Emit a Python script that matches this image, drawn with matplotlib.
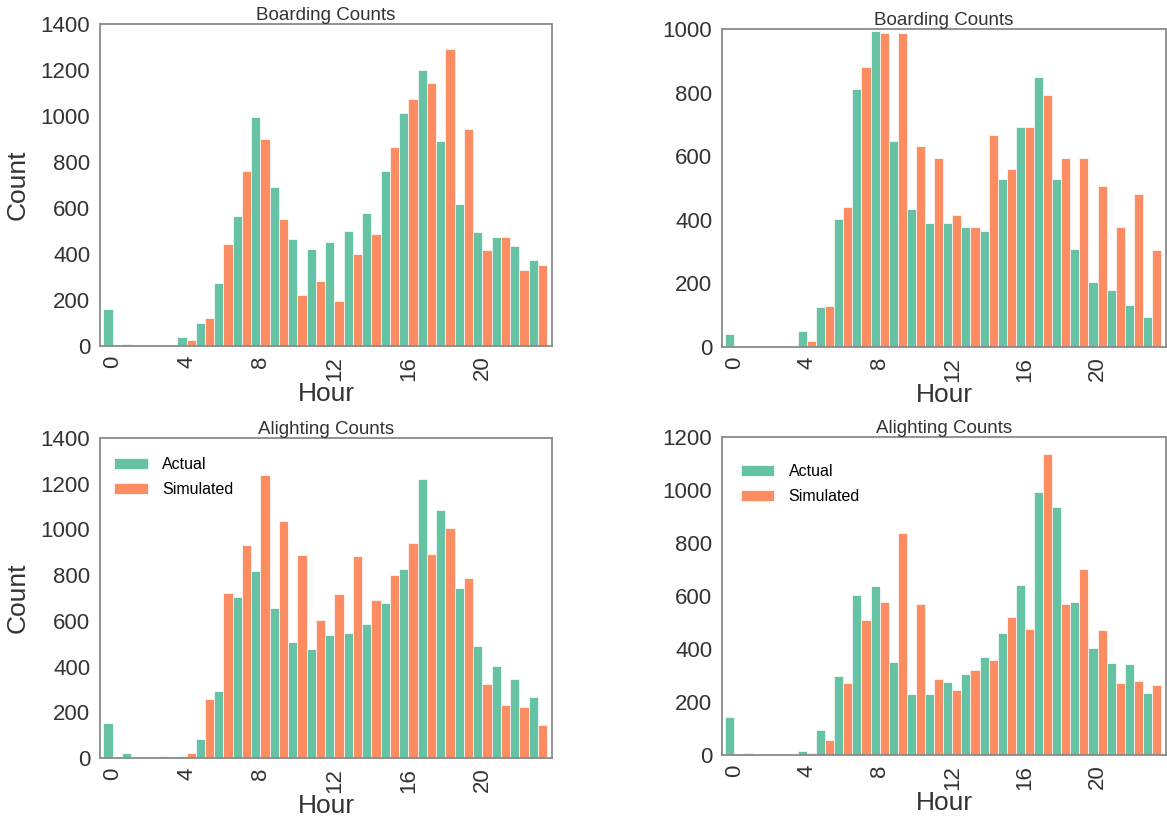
import numpy as np
import matplotlib.pyplot as plt

plt.rcParams['font.family'] = ['Liberation Sans', 'DejaVu Sans']

hours = list(range(24))
hour_ticks = [0, 4, 8, 12, 16, 20]

# left column
board_actual_a = [160, 10, 0, 4, 38, 99, 274, 565, 995, 691, 465, 423,
                  452, 498, 579, 760, 1012, 1202, 893, 616, 494, 476, 434, 372]
board_sim_a = [0, 0, 0, 0, 26, 123, 444, 760, 899, 553, 221, 283,
               195, 402, 489, 866, 1073, 1143, 1291, 945, 418, 473, 330, 354]
alight_actual_a = [155, 22, 0, 7, 9, 85, 292, 704, 817, 658, 506, 475,
                   536, 548, 586, 680, 827, 1222, 1086, 742, 488, 403, 345, 267]
alight_sim_a = [0, 0, 0, 0, 22, 256, 722, 934, 1238, 1035, 890, 602,
                718, 883, 691, 802, 941, 891, 1005, 789, 323, 234, 225, 145]

# right column
board_actual_b = [40, 0, 0, 3, 51, 127, 404, 810, 993, 648, 433, 390,
                  390, 376, 366, 527, 691, 848, 527, 309, 205, 178, 133, 93]
board_sim_b = [0, 0, 0, 0, 19, 130, 440, 881, 987, 987, 633, 593,
               416, 376, 667, 561, 691, 793, 595, 595, 507, 377, 480, 305]
alight_actual_b = [145, 8, 0, 0, 15, 94, 298, 604, 637, 352, 231, 229,
                   275, 304, 369, 462, 643, 994, 936, 578, 402, 347, 344, 235]
alight_sim_b = [0, 0, 0, 0, 9, 55, 271, 511, 576, 838, 568, 286,
                246, 319, 358, 520, 477, 1135, 568, 701, 471, 271, 279, 264]

green = '#66c2a5'
orange = '#fc8d62'
text_col = '#333333'
spine_col = '#8a8a8a'


def draw(ax, actual, sim, title, ymax, ylabel=False, legend=None):
    x = np.array(hours)
    ax.bar(x - 0.25, actual, width=0.5, color=green, edgecolor='white',
           linewidth=0.5, label='Actual')
    ax.bar(x + 0.25, sim, width=0.5, color=orange, edgecolor='white',
           linewidth=0.5, label='Simulated')
    ax.set_xlim(-0.68, 23.77)
    ax.set_ylim(0, ymax)
    ax.set_yticks(range(0, ymax + 1, 200))
    ax.set_xticks(hour_ticks)
    ax.set_xticklabels([str(h) for h in hour_ticks], rotation=90)
    ax.tick_params(length=0, labelsize=16, labelcolor=text_col, pad=7)
    for s in ax.spines.values():
        s.set_color(spine_col)
        s.set_linewidth(1.3)
    ax.set_title(title, fontsize=13.5, color=text_col, pad=3)
    ax.set_xlabel('Hour', fontsize=19, color=text_col, labelpad=1)
    if ylabel:
        ax.set_ylabel('Count', fontsize=19, color=text_col, labelpad=8)
    if legend is not None:
        ax.legend(loc='upper left', bbox_to_anchor=legend, frameon=False,
                  fontsize=11.5, handlelength=2.1, handletextpad=0.9,
                  labelspacing=0.62)


W, H = 1167, 821
fig = plt.figure(figsize=(W / 100, H / 100), dpi=100)

def box(l, r, t, b):
    return [l / W, 1 - b / H, (r - l) / W, (b - t) / H]

ax1 = fig.add_axes(box(100, 552, 24, 346))
ax2 = fig.add_axes(box(722, 1166, 29, 347))
ax3 = fig.add_axes(box(100, 552, 438, 758))
ax4 = fig.add_axes(box(722, 1166, 437, 755))

draw(ax1, board_actual_a, board_sim_a, 'Boarding Counts', 1400, ylabel=True)
draw(ax2, board_actual_b, board_sim_b, 'Boarding Counts', 1000)
draw(ax3, alight_actual_a, alight_sim_a, 'Alighting Counts', 1400,
     ylabel=True, legend=(0.0, 0.985))
draw(ax4, alight_actual_b, alight_sim_b, 'Alighting Counts', 1200,
     legend=(0.01, 0.96))

fig.savefig('out.png', dpi=100)
